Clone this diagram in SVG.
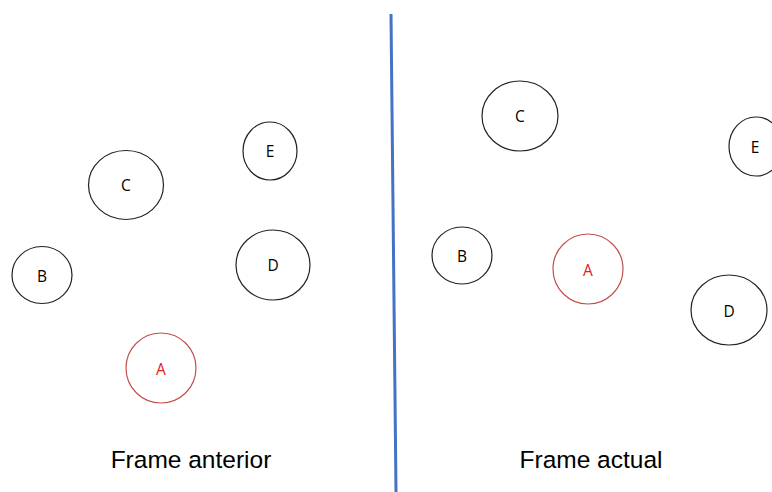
<svg xmlns="http://www.w3.org/2000/svg" width="772" height="492" viewBox="0 0 772 492">
<style>
.n{fill:#fff;stroke:#222;stroke-width:1.2}
.r{fill:#fff;stroke:#C0504D;stroke-width:1.2}
.t{font-family:"Open Sans","Liberation Sans",Arial,sans-serif;font-size:15.5px;text-anchor:middle;dominant-baseline:central;fill:#000}
.tr{font-family:"Open Sans","Liberation Sans",Arial,sans-serif;font-size:15.5px;text-anchor:middle;dominant-baseline:central;fill:#E02020}
.cap{font-family:"Liberation Sans",Arial,sans-serif;font-size:24.5px;text-anchor:middle;fill:#000}
</style>
<rect width="772" height="492" fill="#fff"/>
<g id="connectors">
<line x1="391" y1="14" x2="396" y2="492" stroke="#4472C4" stroke-width="3"/>
</g>
<g id="L-C"><ellipse class="n" cx="126" cy="185" rx="37.5" ry="34.5"/><text class="t" x="126" y="185">C</text></g>
<g id="L-E"><ellipse class="n" cx="270" cy="151" rx="27" ry="29"/><text class="t" x="270" y="151">E</text></g>
<g id="L-B"><ellipse class="n" cx="42" cy="275" rx="30" ry="28.5"/><text class="t" x="42" y="276">B</text></g>
<g id="L-D"><ellipse class="n" cx="273" cy="265" rx="37" ry="35"/><text class="t" x="273" y="265">D</text></g>
<g id="L-A"><ellipse class="r" cx="161" cy="368" rx="35" ry="35"/><text class="tr" x="161" y="369">A</text></g>
<g id="R-C"><ellipse class="n" cx="520" cy="116" rx="38" ry="35"/><text class="t" x="520" y="116">C</text></g>
<g id="R-E"><ellipse class="n" cx="756" cy="146.5" rx="27" ry="29.5"/><text class="t" x="755" y="147">E</text></g>
<g id="R-B"><ellipse class="n" cx="462" cy="255.5" rx="30" ry="28.5"/><text class="t" x="462" y="256">B</text></g>
<g id="R-A"><ellipse class="r" cx="588" cy="269" rx="35" ry="35"/><text class="tr" x="588" y="270">A</text></g>
<g id="R-D"><ellipse class="n" cx="729" cy="310" rx="38" ry="35"/><text class="t" x="729" y="311">D</text></g>
<text class="cap" x="191" y="468">Frame anterior</text>
<text class="cap" x="591" y="468">Frame actual</text>
</svg>
